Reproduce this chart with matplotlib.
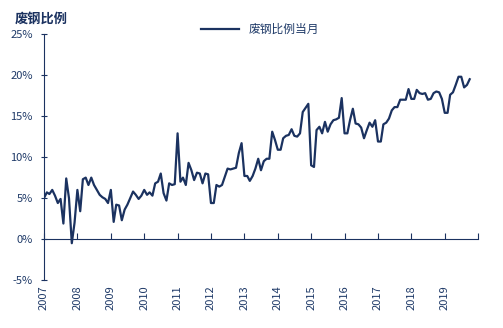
import numpy as np
import pandas as pd
import matplotlib
matplotlib.use("Agg")
import matplotlib.pyplot as plt

plt.rcParams['font.family'] = ['Noto Sans CJK SC', 'DejaVu Sans']

# monthly scrap ratio (%), 2007-01 .. 2019-10
ratio = [
    5.0, 5.7, 5.5, 6.0, 5.3, 4.4, 4.9, 1.9, 7.4, 5.0, -0.5, 2.0,
    6.0, 3.4, 7.3, 7.5, 6.6, 7.5, 6.6, 6.0, 5.4, 5.1, 4.9, 4.4,
    6.0, 2.1, 4.2, 4.1, 2.3, 3.6, 4.2, 5.0, 5.8, 5.4, 4.9, 5.3,
    6.0, 5.4, 5.7, 5.3, 6.8, 7.0, 8.0, 5.6, 4.7, 6.8, 6.6, 6.7,
    12.9, 7.0, 7.5, 6.6, 9.3, 8.4, 7.2, 8.1, 8.0, 6.8, 8.0, 7.9,
    4.4, 4.4, 6.6, 6.4, 6.6, 7.6, 8.6, 8.5, 8.6, 8.7, 10.5, 11.7,
    7.7, 7.7, 7.1, 7.7, 8.6, 9.8, 8.4, 9.5, 9.8, 9.8, 13.1, 12.1,
    10.9, 10.9, 12.3, 12.6, 12.7, 13.4, 12.6, 12.5, 12.9, 15.5, 16.0, 16.5,
    9.0, 8.8, 13.3, 13.7, 12.9, 14.3, 13.1, 14.0, 14.5, 14.6, 14.8, 17.2,
    12.9, 12.9, 14.5, 15.9, 14.1, 14.0, 13.6, 12.3, 13.3, 14.2, 13.7, 14.5,
    11.9, 11.9, 14.0, 14.2, 14.7, 15.7, 16.1, 16.1, 17.0, 17.0, 17.0, 18.3,
    17.1, 17.1, 18.2, 17.8, 17.7, 17.8, 17.0, 17.1, 17.8, 18.0, 17.9, 17.1,
    15.4, 15.4, 17.6, 17.9, 18.8, 19.8, 19.8, 18.5, 18.8, 19.5,
]
dates = pd.date_range("2007-01-01", periods=len(ratio), freq="MS")
years = list(range(2007, 2020))
yticks = [-5, 0, 5, 10, 15, 20, 25]

navy = "#1b3260"
txt = "#1f3a68"

fig = plt.figure(figsize=(5.03, 3.28), dpi=100)
ax = fig.add_axes([0.0875, 0.146, 0.863, 0.75])

ax.plot(dates, ratio, color=navy, lw=1.6, label="废钢比例当月")

ax.set_xlim(pd.Timestamp("2007-01-01"), pd.Timestamp("2020-01-01"))
ax.set_ylim(-5, 25)

ax.set_yticks(yticks)
ax.set_yticklabels([f"{v}%" for v in yticks])
ax.tick_params(axis='y', direction='inout', length=4, colors=navy, labelcolor=txt,
               labelsize=8, pad=6)

# x axis line sits at 0%, ticks point up
ax.spines['bottom'].set_position(('data', 0))
ax.spines['bottom'].set_color(navy)
ax.spines['left'].set_color(navy)
ax.spines['top'].set_visible(False)
ax.spines['right'].set_visible(False)
tick_dates = [pd.Timestamp(f"{y}-01-01") for y in years + [2020]]
ax.set_xticks(tick_dates)
ax.tick_params(axis='x', direction='in', length=4, colors=navy, labelbottom=False)

# year labels below the plot
sec = ax.secondary_xaxis('bottom')
sec.spines['bottom'].set_visible(False)
sec.set_xticks([pd.Timestamp(f"{y}-01-01") for y in years])
sec.set_xticklabels([str(y) for y in years], rotation=90)
sec.tick_params(axis='x', length=0, labelsize=8, labelcolor=txt, pad=4)

fig.text(0.03, 0.93, "废钢比例", fontsize=9.5, fontweight='bold', color=navy)
ax.legend(loc='upper center', bbox_to_anchor=(0.497, 1.088), frameon=False,
          fontsize=8.5, labelcolor=txt, handlelength=3.2)

fig.savefig("out.png", dpi=100)
